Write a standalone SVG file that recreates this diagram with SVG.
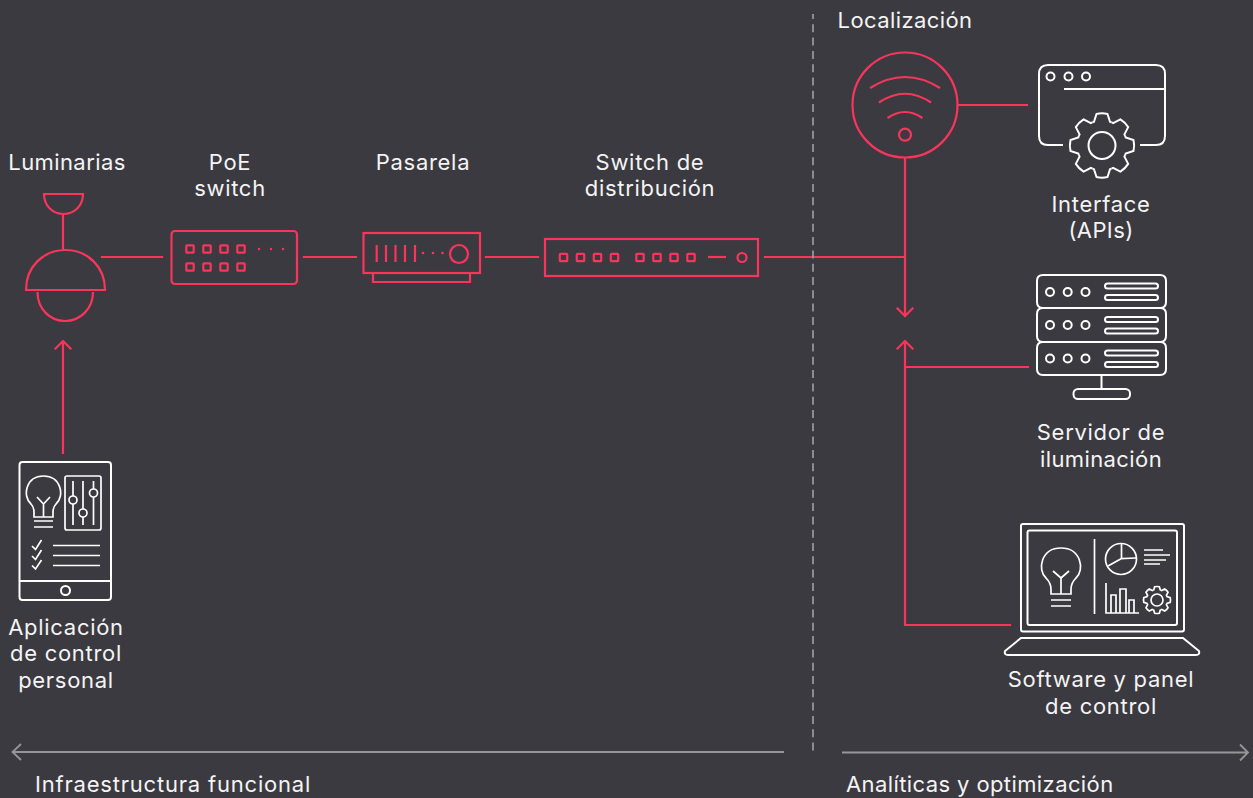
<svg xmlns="http://www.w3.org/2000/svg" xmlns:xlink="http://www.w3.org/1999/xlink" width="1253" height="798" viewBox="0 0 1253 798">
<style>
.p{fill:none;stroke:#f9355c;stroke-width:2.200}
.w{fill:none;stroke:#fff;stroke-width:2}
.n{fill:none;stroke:#fff;stroke-width:1.700}
.c{fill:none;stroke:#f9355c;stroke-width:2.200;stroke-linecap:square}
.g{fill:none;stroke:#96969a;stroke-width:1.800}
text{font-family:Inter,"Liberation Sans",sans-serif;font-size:22px;letter-spacing:.7px;fill:#f4f4f4;text-anchor:middle}
.l{text-anchor:start}
.t{letter-spacing:.4px}
</style>
<defs>
<g id="tooth"><path d="M-9.57-23.1A25 25 0 0 1-8-23.7L-5.5-31.5Q0-32.8 5.5-31.5L8-23.7A25 25 0 0 1 9.57-23.1" vector-effect="non-scaling-stroke"/></g>
<g id="gear">
<use xlink:href="#tooth"/><use xlink:href="#tooth" transform="rotate(45)"/><use xlink:href="#tooth" transform="rotate(90)"/><use xlink:href="#tooth" transform="rotate(135)"/><use xlink:href="#tooth" transform="rotate(180)"/><use xlink:href="#tooth" transform="rotate(225)"/><use xlink:href="#tooth" transform="rotate(270)"/><use xlink:href="#tooth" transform="rotate(315)"/>
</g>
<g id="sq"><rect x="-3.7" y="-3.7" width="7.4" height="7.4" rx=".8"/></g>
</defs>
<rect width="1253" height="798" fill="#3b3a40"/>

<g id="connectors">
<path class="c" d="M102 257H162M304 257H356M486 257H538M765 257H905M959 105H1027M905 158V316M63 453V342M905 625V342M905 625H1010M905 367H1028"/>
<path class="c" d="M897.500 308.500L905 316L912.500 308.500M897.500 348.500L905 341L912.500 348.500M55.500 348.500L63 341L70.500 348.500"/>
<path d="M813 14V752" fill="none" stroke="#96969a" stroke-width="1.800" stroke-dasharray="8 5.300" stroke-dashoffset="3"/>
<path class="g" d="M784 752H12.500M21 744L12.500 752L21 760M842 752.500H1248M1240 744.500L1248 752.500L1240 760.500"/>
</g>

<g id="luminarias">
<path class="p" d="M44 194H83C83 206 74 214 63.500 214C53 214 44 206 44 194ZM63 214V250M26 290C26 267 43 250 65.500 250C88 250 105 267 105 290ZM37.500 292C37.500 309 50 321 65 321C80 321 93 309 93 292"/>
<text class="t" x="67" y="170">Luminarias</text>
</g>

<g id="poe-switch">
<rect class="p" x="171.500" y="231" width="125.500" height="53" rx="3.500"/>
<g class="p"><use xlink:href="#sq" x="190" y="249"/><use xlink:href="#sq" x="207" y="249"/><use xlink:href="#sq" x="224" y="249"/><use xlink:href="#sq" x="241" y="249"/><use xlink:href="#sq" x="190" y="267"/><use xlink:href="#sq" x="207" y="267"/><use xlink:href="#sq" x="224" y="267"/><use xlink:href="#sq" x="241" y="267"/></g>
<g fill="#f9355c"><circle cx="259" cy="249" r="1.200"/><circle cx="271" cy="249" r="1.200"/><circle cx="283" cy="249" r="1.200"/></g>
<text x="230" y="170">PoE</text><text x="230" y="196">switch</text>
</g>

<g id="pasarela">
<rect class="p" x="363.500" y="233" width="116.500" height="40"/>
<path class="p" d="M373 273V282H470V273M376.700 245V262M386 245V262M395.500 245V262M405 245V262M415 245V262"/>
<g fill="#f9355c"><circle cx="423" cy="253" r="1.300"/><circle cx="433" cy="253" r="1.300"/><circle cx="442.500" cy="253" r="1.300"/></g>
<circle class="p" cx="459" cy="254" r="9"/>
<text x="423" y="170">Pasarela</text>
</g>

<g id="switch-distribucion">
<rect class="p" x="545" y="239" width="213" height="37"/>
<g class="p"><use xlink:href="#sq" x="563.500" y="257.500"/><use xlink:href="#sq" x="580.500" y="257.500"/><use xlink:href="#sq" x="597.500" y="257.500"/><use xlink:href="#sq" x="614.500" y="257.500"/><use xlink:href="#sq" x="640" y="257.500"/><use xlink:href="#sq" x="657" y="257.500"/><use xlink:href="#sq" x="674" y="257.500"/><use xlink:href="#sq" x="691" y="257.500"/></g>
<path class="p" d="M708 257H726"/>
<circle class="p" cx="742" cy="257.500" r="4.500"/>
<text x="650" y="170">Switch de</text><text x="650" y="196">distribución</text>
</g>

<g id="localizacion">
<circle class="p" cx="905" cy="105" r="52.500"/>
<path class="p" d="M870 88Q905 66 940 88M879 102.500Q905 85 931 102.500M887.500 118Q905 106 922.500 118"/>
<circle class="p" cx="905" cy="134.700" r="6"/>
<text class="t" x="905" y="28">Localización</text>
</g>

<g id="interface">
<path class="w" d="M1063 145H1048Q1039 145 1039 136V74Q1039 65 1048 65H1156Q1165 65 1165 74V136Q1165 145 1156 145H1140M1064 89H1165"/>
<circle class="w" cx="1050.500" cy="76.500" r="4"/><circle class="w" cx="1068.500" cy="76.500" r="4"/><circle class="w" cx="1086" cy="76.500" r="4"/>
<use xlink:href="#gear" class="w" transform="translate(1102 145.500)"/>
<circle class="w" cx="1102" cy="145.500" r="13.500"/>
<text x="1101" y="212">Interface</text><text class="t" x="1101" y="238">(APIs)</text>
</g>

<g id="servidor">
<path class="w" d="M1043 275H1160Q1166 275 1166 281V302Q1166 308 1160 308H1043Q1037 308 1037 302V281Q1037 275 1043 275ZM1043 308H1160Q1166 308 1166 314V336Q1166 342 1160 342H1043Q1037 342 1037 336V314Q1037 308 1043 308ZM1043 342H1160Q1166 342 1166 348V369Q1166 375 1160 375H1043Q1037 375 1037 369V348Q1037 342 1043 342ZM1101.500 375V388"/>
<rect class="w" x="1073.500" y="389" width="56.500" height="10" rx="4.500"/>
<g class="w"><circle cx="1050" cy="292" r="4"/><circle cx="1067.700" cy="292" r="4"/><circle cx="1085.500" cy="292" r="4"/><circle cx="1050" cy="325" r="4"/><circle cx="1067.700" cy="325" r="4"/><circle cx="1085.500" cy="325" r="4"/><circle cx="1050" cy="358.500" r="4"/><circle cx="1067.700" cy="358.500" r="4"/><circle cx="1085.500" cy="358.500" r="4"/></g>
<g class="w"><rect x="1105" y="283.500" width="53" height="5" rx="2.500"/><rect x="1105" y="295" width="53" height="5" rx="2.500"/><rect x="1105" y="317" width="53" height="5" rx="2.500"/><rect x="1105" y="328.500" width="53" height="5" rx="2.500"/><rect x="1105" y="350.500" width="53" height="5" rx="2.500"/><rect x="1105" y="362" width="53" height="5" rx="2.500"/></g>
<text x="1101" y="440">Servidor de</text><text class="t" x="1101" y="467">iluminación</text>
</g>

<g id="software">
<rect class="w" x="1021" y="524" width="163" height="107.500" rx="2"/>
<rect class="w" x="1027.500" y="530.500" width="149.500" height="94.500" rx="2"/>
<path class="w" d="M1021 638H1183L1199 651Q1200 655 1196 655H1008Q1004 655 1005 651Z"/>
<path class="n" d="M1051 594V589Q1051 583 1046 578C1037 570 1041 548 1061 548C1081 548 1085 570 1076 578Q1071 583 1071 589V594ZM1061 594V578L1053 571M1061 578L1069 571M1051 600H1071M1051 606H1071"/>
<path class="n" d="M1094.500 539V614"/>
<circle class="n" cx="1121" cy="559" r="15.500"/>
<path class="n" d="M1121.500 544V558.500L1136 558M1121.500 558.500L1108 566M1144 550H1163M1144 555H1170M1144 560H1166M1144 564H1160M1106 583V613H1139M1111 613V595H1116V613M1120 613V589H1126V613M1129 613V600H1134V613"/>
<use xlink:href="#gear" class="n" transform="translate(1157 600) scale(.42)"/>
<circle class="n" cx="1157" cy="600" r="6"/>
<text x="1101" y="687">Software y panel</text><text x="1101" y="714">de control</text>
</g>

<g id="aplicacion">
<rect class="w" x="19.500" y="462" width="91.500" height="138" rx="3"/>
<path class="w" d="M19.500 581H111"/>
<circle class="w" cx="65.500" cy="590.500" r="4.500"/>
<path class="n" d="M34 517V512Q34 507 31 504C22 496 26 476 43.500 476C61 476 65 496 56 504Q53 507 53 512V517ZM43.500 517V504L37 497M43.500 504L50 497M34 521H53M34 527H53"/>
<rect class="n" x="65" y="476" width="36" height="54" rx="2"/>
<path class="n" d="M73 481V496M73 504V525M83 481V509M83 517V525M93.500 481V489M93.500 497V525"/>
<circle class="n" cx="73" cy="500" r="4"/><circle class="n" cx="83" cy="513" r="4"/><circle class="n" cx="93.500" cy="493" r="4"/>
<path class="n" d="M32 546L35.500 549.500L41.500 540M32 556L35.500 559.500L41.500 550M32 565.500L35.500 569L41.500 560M53 545.500H100M53 555.500H100M53 565.500H100"/>
<text x="66" y="635">Aplicación</text><text x="66" y="661">de control</text><text x="66" y="688">personal</text>
</g>

<text class="l" x="35" y="792" style="letter-spacing:.8px">Infraestructura funcional</text>
<text class="l t" x="846" y="792">Analíticas y optimización</text>
</svg>
